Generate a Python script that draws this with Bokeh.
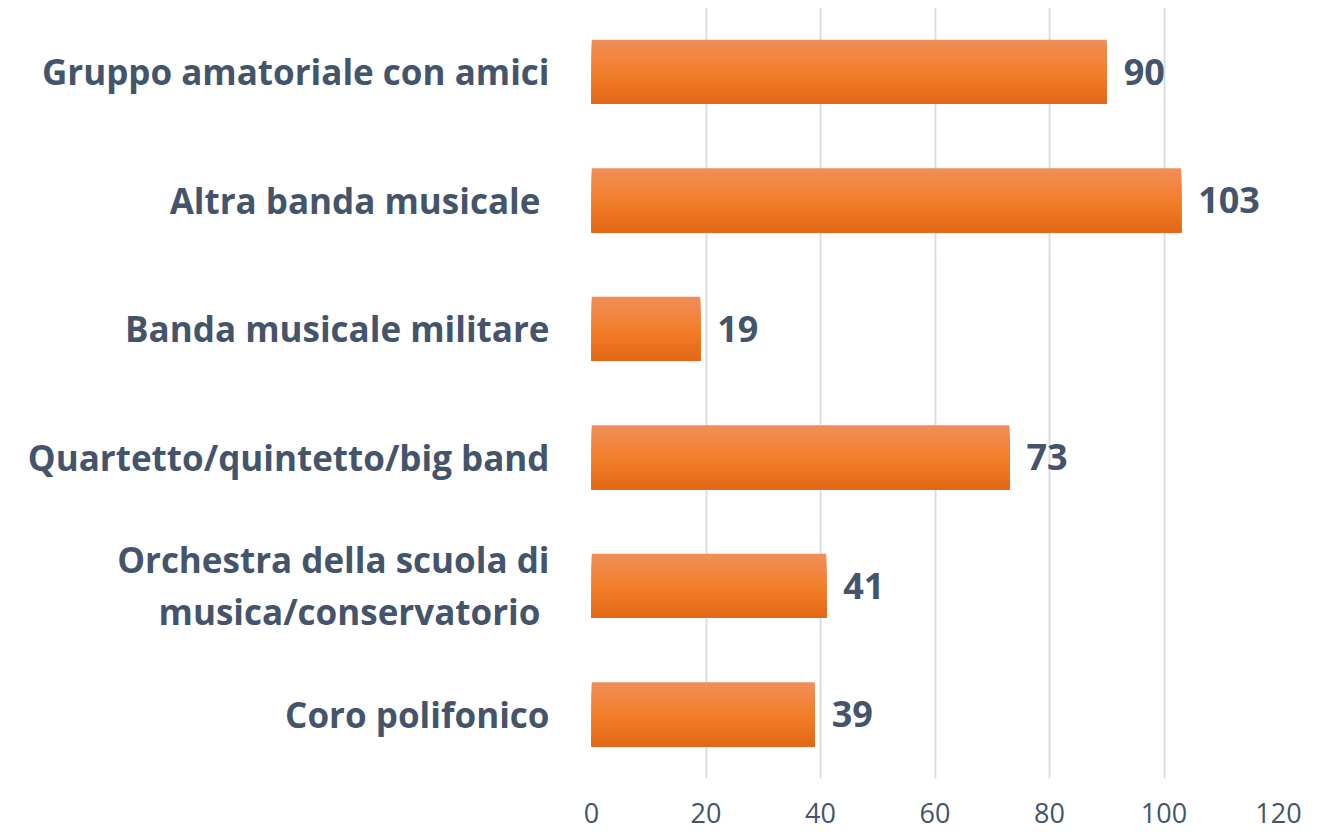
from bokeh.plotting import figure
from bokeh.models import ColumnDataSource, FactorRange, FixedTicker
from bokeh.transform import dodge
from bokeh.core.properties import value
from bokeh.embed import file_html
from bokeh.resources import INLINE

categories = [
    "Gruppo amatoriale con amici",
    "Altra banda musicale ",
    "Banda musicale militare",
    "Quartetto/quintetto/big band",
    "Orchestra della scuola di\nmusica/conservatorio ",
    "Coro polifonico",
]
values = [90, 103, 19, 73, 41, 39]
x_ticks = [0, 20, 40, 60, 80, 100, 120]

TEXT = "#44546A"
FONT = "Open Sans"

src = ColumnDataSource(data=dict(cat=categories, val=values, lab=[str(v) for v in values]))

p = figure(
    y_range=FactorRange(*reversed(categories), range_padding=0),
    x_range=(0, 120),
    width=1322, height=830,
    output_backend="svg", toolbar_location=None,
    min_border_left=591, min_border_right=44, min_border_top=7, min_border_bottom=52,
)
p.outline_line_color = None
p.background_fill_color = "white"
p.border_fill_color = "white"

# vertical gradient approximated by stacked, overlapping strips
top_c = (0xF0, 0x8E, 0x58)
mid_c = (0xF4, 0x7F, 0x2A)
bot_c = (0xE4, 0x68, 0x17)
N = 24
bar_h = 0.5
strip = bar_h / N
for i in range(N):
    t = i / (N - 1)
    if t < 0.5:
        u = t / 0.5
        c = tuple(int(top_c[k] + (mid_c[k] - top_c[k]) * u) for k in range(3))
    else:
        u = (t - 0.5) / 0.5
        c = tuple(int(mid_c[k] + (bot_c[k] - mid_c[k]) * u) for k in range(3))
    h = bar_h - strip * i
    off = bar_h / 2 - strip * i - h / 2
    p.hbar(y=dodge("cat", off, range=p.y_range), right="val", left=0, height=h,
           source=src, fill_color="#%02x%02x%02x" % c, line_color=None)

p.text(x="val", y="cat", text="lab", source=src, x_offset=17,
       text_font=value(FONT), text_font_style="bold", text_font_size="36px",
       text_color=TEXT, text_align="left", text_baseline="middle")

p.xaxis.ticker = FixedTicker(ticks=x_ticks)
p.xaxis.axis_line_color = None
p.xaxis.major_tick_line_color = None
p.xaxis.minor_tick_line_color = None
p.xaxis.major_label_text_font = FONT
p.xaxis.major_label_text_font_size = "27px"
p.xaxis.major_label_text_color = TEXT
p.xaxis.major_label_standoff = 18

p.yaxis.axis_line_color = None
p.yaxis.major_tick_line_color = None
p.yaxis.major_label_text_font = FONT
p.yaxis.major_label_text_font_style = "bold"
p.yaxis.major_label_text_font_size = "35px"
p.yaxis.major_label_text_color = TEXT
p.yaxis.major_label_text_line_height = 1.1
p.yaxis.major_label_standoff = 36

p.xgrid.ticker = FixedTicker(ticks=x_ticks)
p.xgrid.grid_line_color = "#D9DEE6"
p.xgrid.grid_line_width = 2
p.ygrid.grid_line_color = None

open("out.html", "w").write(file_html(p, INLINE))
